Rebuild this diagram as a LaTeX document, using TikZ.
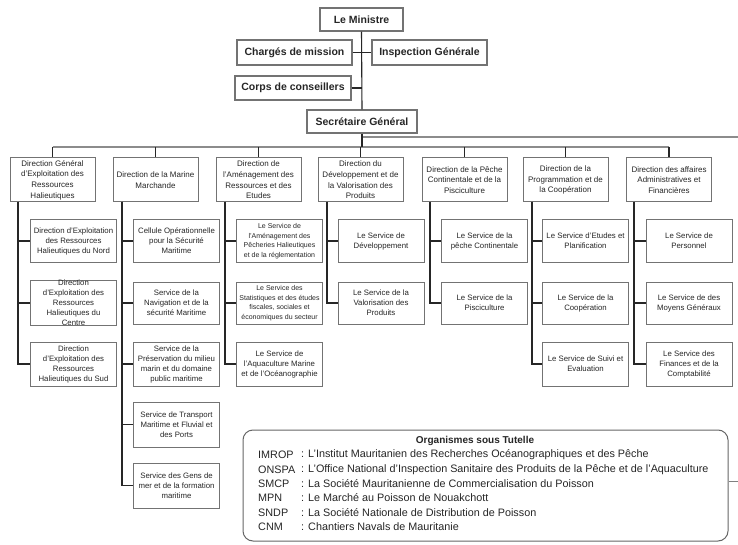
\documentclass[tikz,border=0pt]{standalone}
\usepackage{fontspec}
\setmainfont{Liberation Sans}
\begin{document}
\begin{tikzpicture}[x=1pt,y=-1pt,
  every node/.style={inner sep=1pt, align=center, text=black!85},
  topbox/.style={draw=black!55, line width=1.1pt, font=\fontsize{10.5}{12}\selectfont\bfseries},
  hdr/.style={draw=black!55, line width=1pt, minimum width=85pt, minimum height=44pt, inner sep=0pt, font=\fontsize{8}{10.6}\selectfont},
  sub/.style={draw=black!55, line width=1pt, minimum width=86pt, inner sep=0pt, font=\fontsize{7.8}{10}\selectfont},
  small/.style={font=\fontsize{7}{9.6}\selectfont},
  link/.style={draw=black!85, line width=1.1pt},
  bus/.style={draw=black!45, line width=1.6pt},
  legend/.style={draw=black!60, line width=1pt, rounded corners=10pt, minimum width=485pt, minimum height=111pt},
  legtxt/.style={anchor=west, inner sep=0pt, font=\fontsize{10.8}{12}\selectfont}
]
\useasboundingbox (0,0) rectangle (738,545);
\fill[white] (0,0) rectangle (738,545);

% --- top of the hierarchy
\node[topbox, minimum width=83pt, minimum height=23pt] (min) at (361.5,19.5) {Le Ministre};
\node[topbox, minimum width=115pt, minimum height=25pt] (cm) at (294.5,52.5) {Chargés de mission};
\node[topbox, minimum width=115pt, minimum height=25pt] (ig) at (429.5,52.5) {Inspection Générale};
\node[topbox, minimum width=116pt, minimum height=24pt] (cc) at (293,88) {Corps de conseillers};
\node[topbox, minimum width=110pt, minimum height=23pt] (sg) at (362,121.5) {Secrétaire Général};

\draw[link] (min.south) -- (sg.north);
\draw[link] (cm.east) -- (ig.west);
\draw[link] (cc.east) -- (cc.east -| min.south);

% --- directions
\node[hdr] (h1) at (52.5,180) {Direction Général\\d'Exploitation des\\Ressources\\Halieutiques};
\node[hdr] (h2) at (155.5,180) {Direction de la Marine\\Marchande};
\node[hdr] (h3) at (258.5,180) {Direction de\\l'Aménagement des\\Ressources et des\\Etudes};
\node[hdr] (h4) at (360.5,180) {Direction du\\Développement et de\\la Valorisation des\\Produits};
\node[hdr] (h5) at (464.5,180) {Direction de la Pêche\\Continentale et de la\\Pisciculture};
\node[hdr] (h6) at (565.5,180) {Direction de la\\Programmation et de\\la Coopération};
\node[hdr] (h7) at (669,180) {Direction des affaires\\Administratives et\\Financières};

\coordinate (busL) at (52.5,147);
\coordinate (busR) at (669,147);
\coordinate (edge) at (738,137);
\draw[bus] (sg.south |- edge) -- (edge);
\draw[bus] (busL) -- (busR);
\draw[link] (sg.south) -- (sg.south |- busL);
\foreach \i in {1,...,7} { \draw[link] (h\i.north |- busL) -- (h\i.north); }

% --- services
\node[sub, minimum height=42pt] (s11) at (73.5,241) {Direction d'Exploitation\\des Ressources\\Halieutiques du Nord};
\node[sub, minimum height=42pt] (s12) at (73.5,303) {Direction\\d'Exploitation des\\Ressources\\Halieutiques du\\Centre};
\node[sub, minimum height=44pt] (s13) at (73.5,364) {Direction\\d'Exploitation des\\Ressources\\Halieutiques du Sud};

\node[sub, minimum height=42pt] (s21) at (176.5,241) {Cellule Opérationnelle\\pour la Sécurité\\Maritime};
\node[sub, minimum height=42pt] (s22) at (176.5,303) {Service de la\\Navigation et de la\\sécurité Maritime};
\node[sub, minimum height=44pt] (s23) at (176.5,364) {Service de la\\Préservation du milieu\\marin et du domaine\\public maritime};
\node[sub, minimum height=45pt] (s24) at (176.5,424.5) {Service de Transport\\Maritime et Fluvial et\\des Ports};
\node[sub, minimum height=45pt] (s25) at (176.5,485.5) {Service des Gens de\\mer et de la formation\\maritime};

\node[sub, small, minimum height=42pt] (s31) at (279.5,241) {Le Service de\\l'Aménagement des\\Pêcheries Halieutiques\\et de la réglementation};
\node[sub, small, minimum height=42pt] (s32) at (279.5,303) {Le Service des\\Statistiques et des études\\fiscales, sociales et\\économiques du secteur};
\node[sub, minimum height=44pt] (s33) at (279.5,364) {Le Service de\\l'Aquaculture Marine\\et de l'Océanographie};

\node[sub, minimum height=42pt] (s41) at (381,241) {Le Service de\\Développement};
\node[sub, minimum height=42pt] (s42) at (381,303) {Le Service de la\\Valorisation des\\Produits};

\node[sub, minimum height=42pt] (s51) at (484.5,241) {Le Service de la\\pêche Continentale};
\node[sub, minimum height=42pt] (s52) at (484.5,303) {Le Service de la\\Pisciculture};

\node[sub, minimum height=42pt] (s61) at (585.5,241) {Le Service d'Etudes et\\Planification};
\node[sub, minimum height=42pt] (s62) at (585.5,303) {Le Service de la\\Coopération};
\node[sub, minimum height=44pt] (s63) at (585.5,364) {Le Service de Suivi et\\Evaluation};

\node[sub, minimum height=42pt] (s71) at (689,241) {Le Service de\\Personnel};
\node[sub, minimum height=42pt] (s72) at (689,303) {Le Service de des\\Moyens Généraux};
\node[sub, minimum height=44pt] (s73) at (689,364) {Le Service des\\Finances et de la\\Comptabilité};

% --- vertical spines of each direction
\coordinate (v1) at (18,202);
\coordinate (v2) at (122,202);
\coordinate (v3) at (225,202);
\coordinate (v4) at (327,202);
\coordinate (v5) at (430,202);
\coordinate (v6) at (532,202);
\coordinate (v7) at (634,202);
\foreach \c/\n in {1/3,2/5,3/3,4/2,5/2,6/3,7/3} {
  \foreach \k in {1,...,\n} { \draw[link] (v\c) |- (s\c\k.west); }
}

% --- supervised bodies
\node[legend] (leg) at (485.5,485.5) {};
\coordinate (legR) at (738,481);
\draw[draw=black!50, line width=0.8pt] (leg.east |- legR) -- (legR);
\node[font=\fontsize{10}{11}\selectfont\bfseries] (legT) at (475,441) {Organismes sous Tutelle};
\foreach \y/\a/\t [count=\j] in {
  455/IMROP/{L'Institut  Mauritanien des Recherches Océanographiques et des Pêche},
  469.5/ONSPA/{L'Office  National d'Inspection Sanitaire des Produits de la Pêche et de l'Aquaculture},
  484/SMCP/{La Société Mauritanienne de Commercialisation du Poisson},
  498/MPN/{Le Marché au Poisson de Nouakchott},
  512.5/SNDP/{La Société Nationale de Distribution  de Poisson},
  527/CNM/{Chantiers Navals de Mauritanie}} {
  \node[legtxt] (la\j) at (258,\y) {\a};
  \node[legtxt] (lt\j) at (301,\y) {: \t};
}
\end{tikzpicture}
\end{document}
